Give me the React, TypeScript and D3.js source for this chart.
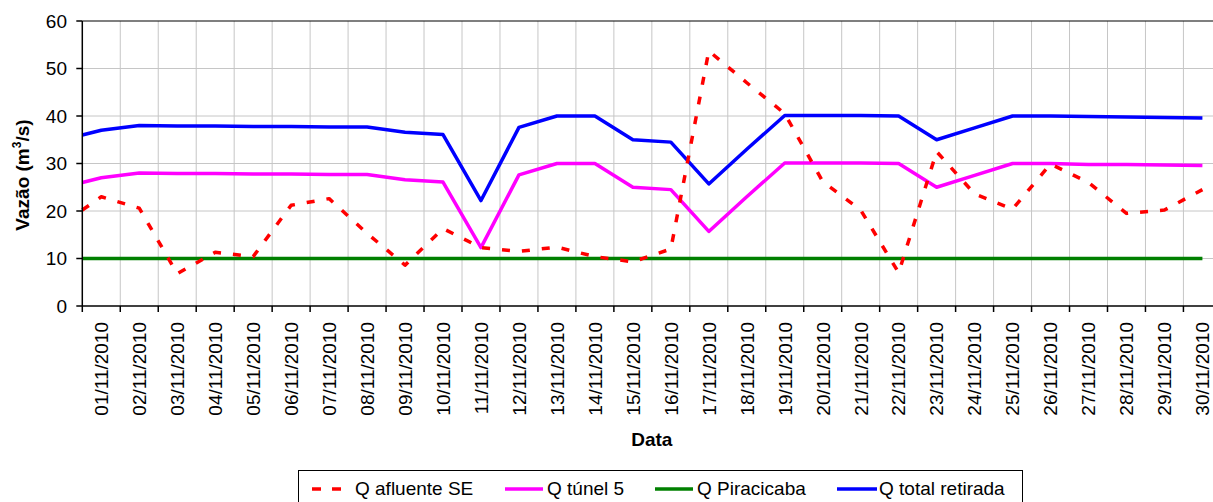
import * as d3 from 'd3';

// Dates on the category axis
const DATES = [
    '01/11/2010', '02/11/2010', '03/11/2010', '04/11/2010', '05/11/2010', '06/11/2010',
    '07/11/2010', '08/11/2010', '09/11/2010', '10/11/2010', '11/11/2010', '12/11/2010',
    '13/11/2010', '14/11/2010', '15/11/2010', '16/11/2010', '17/11/2010', '18/11/2010',
    '19/11/2010', '20/11/2010', '21/11/2010', '22/11/2010', '23/11/2010', '24/11/2010',
    '25/11/2010', '26/11/2010', '27/11/2010', '28/11/2010', '29/11/2010', '30/11/2010',
];

// first value = reading at the start of 01/11, then one reading per day
const Q_AFLUENTE_SE = [
    20.2, 23.0, 20.6, 6.8, 11.3, 10.4, 21.2, 22.6, 15.3, 8.6, 16.3, 12.3, 11.5, 12.4, 10.4, 9.3,
    12.0, 53.7, 47.0, 40.5, 26.2, 20.2, 7.0, 32.5, 23.6, 20.4, 29.9, 26.0, 19.5, 20.2, 24.5,
];
const Q_TUNEL_5 = [
    26.0, 27.0, 28.0, 27.9, 27.9, 27.8, 27.8, 27.7, 27.7, 26.6, 26.1, 12.3, 27.6, 30.0, 30.0, 25.0,
    24.5, 15.7, 23.0, 30.1, 30.1, 30.1, 30.0, 25.0, 27.5, 30.0, 30.0, 29.8, 29.8, 29.7, 29.6,
];
const Q_PIRACICABA = [
    10, 10, 10, 10, 10, 10, 10, 10, 10, 10, 10, 10, 10, 10, 10, 10,
    10, 10, 10, 10, 10, 10, 10, 10, 10, 10, 10, 10, 10, 10, 10,
];
const Q_TOTAL_RETIRADA = [
    36.0, 37.0, 38.0, 37.9, 37.9, 37.8, 37.8, 37.7, 37.7, 36.6, 36.1, 22.2, 37.6, 40.0, 40.0, 35.0,
    34.5, 25.7, 33.0, 40.1, 40.1, 40.1, 40.0, 35.0, 37.5, 40.0, 40.0, 39.9, 39.8, 39.7, 39.6,
];

const Y_TICKS = [0, 10, 20, 30, 40, 50, 60];

const SERIES = [
    { name: 'Q afluente SE', values: Q_AFLUENTE_SE, color: '#FF0000', dash: '8,12' },
    { name: 'Q túnel 5', values: Q_TUNEL_5, color: '#FF00FF', dash: null },
    { name: 'Q Piracicaba', values: Q_PIRACICABA, color: '#008000', dash: null },
    { name: 'Q total retirada', values: Q_TOTAL_RETIRADA, color: '#0000FF', dash: null },
];
const DRAW_ORDER = [3, 2, 1, 0];

const WIDTH = 1213;
const HEIGHT = 502;
const LEFT = 82.3;
const TOP = 21;
const BOTTOM = 306;
const STEP = 37.97;
const FONT = '"Liberation Sans", Arial, sans-serif';

export default function App() {
    const x = d3.scaleLinear().domain([0, DATES.length]).range([LEFT, LEFT + STEP * DATES.length]);
    const y = d3.scaleLinear().domain([0, 60]).range([BOTTOM, TOP]);
    const right = x(DATES.length);

    const line = d3
        .line<number>()
        .x((_, i) => x(i === 0 ? 0 : i - 0.5))
        .y((d) => y(d));

    const boundaries = d3.range(DATES.length + 1);

    // legend positions
    const legendItems = [
        { s: SERIES[0], x0: 312, x1: 342, tx: 355 },
        { s: SERIES[1], x0: 505, x1: 543, tx: 547 },
        { s: SERIES[2], x0: 655, x1: 693, tx: 697 },
        { s: SERIES[3], x0: 837, x1: 877, tx: 879 },
    ];

    return (
        <div style={{ position: 'absolute', left: 0, top: 0 }}>
            <svg width={WIDTH} height={HEIGHT} style={{ display: 'block', background: '#fff' }} fontFamily={FONT}>
                {/* grid */}
                <g stroke="#c6c6c6" strokeWidth={1}>
                    {Y_TICKS.slice(1, -1).map((t) => (
                        <line key={'h' + t} x1={LEFT} x2={right} y1={y(t)} y2={y(t)} />
                    ))}
                    {boundaries.slice(1).map((b) => (
                        <line key={'v' + b} x1={x(b)} x2={x(b)} y1={TOP} y2={BOTTOM} />
                    ))}
                </g>
                <line x1={LEFT} x2={right} y1={y(60)} y2={y(60)} stroke="#000" strokeWidth={1.2} />

                {/* series */}
                {DRAW_ORDER.map((k) => {
                    const s = SERIES[k];
                    return (
                        <path
                            key={s.name}
                            d={line(s.values) ?? ''}
                            fill="none"
                            stroke={s.color}
                            strokeWidth={3.5}
                            strokeDasharray={s.dash ?? undefined}
                            strokeLinejoin="round"
                        />
                    );
                })}

                {/* axes */}
                <g stroke="#000" strokeWidth={1.5}>
                    <line x1={LEFT} x2={LEFT} y1={TOP} y2={BOTTOM} />
                    <line x1={LEFT} x2={right} y1={BOTTOM} y2={BOTTOM} />
                    {Y_TICKS.map((t) => (
                        <line key={'yt' + t} x1={LEFT - 6} x2={LEFT} y1={y(t)} y2={y(t)} />
                    ))}
                    {boundaries.map((b) => (
                        <line key={'xt' + b} x1={x(b)} x2={x(b)} y1={BOTTOM} y2={BOTTOM + 6} />
                    ))}
                </g>

                {/* y tick labels */}
                {Y_TICKS.map((t) => (
                    <text key={'yl' + t} x={67} y={y(t)} dy="0.36em" textAnchor="end" fontSize={19} fill="#000">
                        {t}
                    </text>
                ))}

                {/* x tick labels */}
                {DATES.map((d, i) => (
                    <text
                        key={d}
                        transform={`translate(${x(i + 0.5)},322) rotate(-90)`}
                        dy="0.36em"
                        textAnchor="end"
                        fontSize={19}
                        fill="#000"
                    >
                        {d}
                    </text>
                ))}

                {/* axis titles */}
                <text
                    transform="translate(29,175) rotate(-90)"
                    textAnchor="middle"
                    fontSize={19}
                    fontWeight="bold"
                    fill="#000"
                >
                    Vazão (m
                    <tspan fontSize={12} dy={-8}>
                        3
                    </tspan>
                    <tspan dy={8}>/s)</tspan>
                </text>
                <text x={(LEFT + right) / 2} y={446} textAnchor="middle" fontSize={19} fontWeight="bold" fill="#000">
                    Data
                </text>

                {/* legend */}
                <rect x={298.5} y={470.5} width={724} height={45} fill="#fff" stroke="#000" strokeWidth={1} />
                {legendItems.map(({ s, x0, x1, tx }) => (
                    <g key={'lg' + s.name}>
                        <line
                            x1={x0}
                            x2={x1}
                            y1={489}
                            y2={489}
                            stroke={s.color}
                            strokeWidth={3.5}
                            strokeDasharray={s.dash ? '9,11' : undefined}
                        />
                        <text x={tx} y={495} fontSize={19} fill="#000">
                            {s.name}
                        </text>
                    </g>
                ))}
            </svg>
        </div>
    );
}
